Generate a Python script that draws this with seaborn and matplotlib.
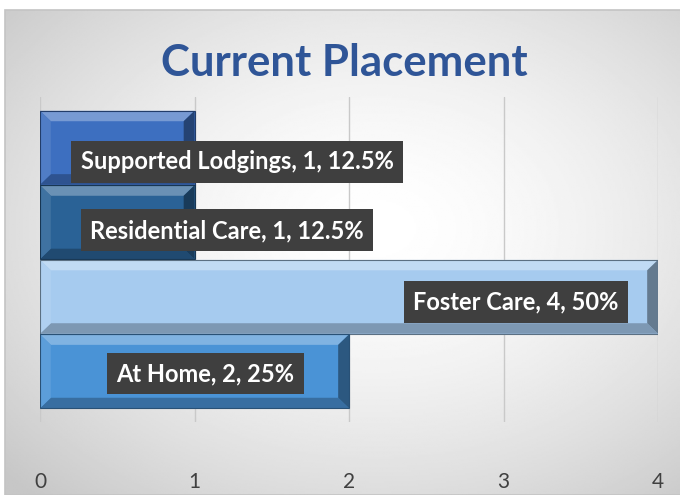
import numpy as np
import pandas as pd
import seaborn as sns
import matplotlib.pyplot as plt
from matplotlib.patches import Polygon, Rectangle
from matplotlib.colors import to_rgb

categories = ["Supported Lodgings", "Residential Care", "Foster Care", "At Home"]
counts = [1, 1, 4, 2]
percents = ["12.5%", "12.5%", "50%", "25%"]
bar_colors = ["#3d6fc0", "#2a6296", "#a6cbef", "#4a93d6"]
x_ticks = [0, 1, 2, 3, 4]

df = pd.DataFrame({"placement": categories, "count": counts})

sns.set_style("white")
plt.rcParams["font.family"] = ["Lato", "DejaVu Sans"]

fig = plt.figure(figsize=(6.8, 4.95), dpi=100)

# radial grey background like the Excel chart area
bg = fig.add_axes([5 / 680, 0, 1 - 5 / 680, 1 - 10 / 495], zorder=-5)
yy, xx = np.mgrid[0:1:300j, 0:1:400j]
r = np.sqrt(((xx - 0.55) / 0.75) ** 2 + ((yy - 0.45) / 0.75) ** 2)
shade = 1.0 - 0.22 * np.clip(r, 0, 1) ** 1.6
bg.imshow(shade, cmap="gray", vmin=0, vmax=1, aspect="auto", extent=[0, 1, 0, 1])
bg.set_axis_off()
fig.add_artist(Rectangle((5 / 680, 0), 1, 1 - 10 / 495, transform=fig.transFigure,
                         fill=False, ec="#c4c4c4", lw=1.2))

ax = fig.add_axes([40 / 680, 1 - 422 / 495, 618 / 680, 325 / 495])
ax.patch.set_alpha(0)

sns.barplot(data=df, y="placement", x="count", hue="placement", palette=bar_colors,
            order=categories, hue_order=categories, orient="h", width=0.99,
            saturation=1, legend=False, ax=ax, edgecolor="none", zorder=3)

ax.set_xlim(0, 4)
ax.set_ylim(3.68, -0.68)
ax.set_xticks(x_ticks)
ax.set_xticklabels([str(t) for t in x_ticks], fontsize=15, color="#404040")
ax.set_yticks([])
ax.set_xlabel("")
ax.set_ylabel("")
ax.grid(axis="x", color="#c9c9c9", lw=1, zorder=0)
ax.tick_params(axis="x", length=18, width=1, color="#a6a6a6", pad=18, direction="out")
for s in ax.spines.values():
    s.set_visible(False)


def mix(c, other, t):
    c = np.array(to_rgb(c))
    o = np.array(to_rgb(other))
    return tuple(c * (1 - t) + o * t)


# bevel edges built on the bar patches
bx = 0.07
by = 0.14
for p, col in zip(ax.patches, bar_colors):
    x0, y0 = p.get_x(), p.get_y()
    x1, y1 = x0 + p.get_width(), y0 + p.get_height()
    top = [(x0, y0), (x1, y0), (x1 - bx, y0 + by), (x0 + bx, y0 + by)]
    bot = [(x0, y1), (x1, y1), (x1 - bx, y1 - by), (x0 + bx, y1 - by)]
    left = [(x0, y0), (x0 + bx, y0 + by), (x0 + bx, y1 - by), (x0, y1)]
    right = [(x1, y0), (x1 - bx, y0 + by), (x1 - bx, y1 - by), (x1, y1)]
    ax.add_patch(Polygon(top, closed=True, fc=mix(col, "white", 0.3), ec="none", zorder=4))
    ax.add_patch(Polygon(bot, closed=True, fc=mix(col, "black", 0.25), ec="none", zorder=4))
    ax.add_patch(Polygon(left, closed=True, fc=mix(col, "white", 0.1), ec="none", zorder=4))
    ax.add_patch(Polygon(right, closed=True, fc=mix(col, "black", 0.4), ec="none", zorder=4))
    ax.add_patch(Rectangle((x0, y0), p.get_width(), p.get_height(), fill=False,
                           ec=mix(col, "black", 0.45), lw=0.8, zorder=5))

# data labels, placed where they sit in the original
label_spots = [(1.275, 0.19), (1.21, 0.11), (3.08, 0.07), (1.07, 0.03)]
for i, (name, n, pct) in enumerate(zip(categories, counts, percents)):
    lx, dy = label_spots[i]
    ax.text(lx, i + dy, f"{name}, {n}, {pct}", ha="center", va="center",
            color="white", fontsize=17, fontweight="bold", zorder=6,
            bbox=dict(boxstyle="square,pad=0.4", fc="#3f3f3f", ec="none"))

fig.text(0.507, 1 - 63 / 495, "Current Placement", ha="center", va="center",
         fontsize=31.5, fontweight="bold", color="#2f5597")

fig.savefig("out.png", dpi=100)
